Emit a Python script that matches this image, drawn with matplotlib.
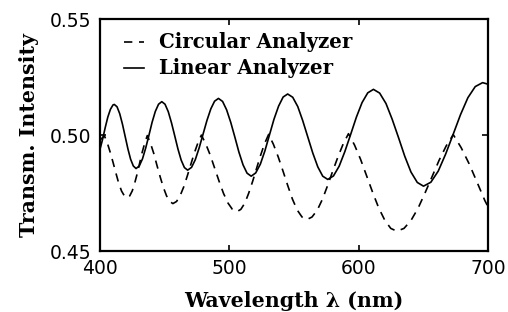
import numpy as np
import matplotlib
matplotlib.use("Agg")
import matplotlib.pyplot as plt

# linear analyzer (solid)
wl_linear = [400.0, 402.0, 404.0, 406.0, 408.0, 410.0,
             411.0, 413.1, 415.2, 417.3, 419.4, 421.5, 423.6, 425.7,
             427.8, 430.3, 432.8, 435.3, 437.8, 440.2, 442.7, 445.2,
             447.7, 450.2, 452.7, 455.2, 457.7, 460.2, 462.7, 465.2,
             467.7, 470.7, 473.6, 476.6, 479.6, 482.6, 485.6, 488.5,
             491.5, 494.7, 497.8, 501.0, 504.2, 507.3, 510.5, 513.6,
             516.8, 520.3, 523.9, 527.4, 530.9, 534.4, 538.0, 541.5,
             545.0, 548.9, 552.8, 556.6, 560.5, 564.4, 568.3, 572.1,
             576.0, 580.4, 584.8, 589.2, 593.7, 598.1, 602.5, 606.9,
             611.3, 616.1, 621.0, 625.8, 630.7, 635.5, 640.3, 645.2,
             650.0, 655.7, 661.4, 667.1, 672.9, 678.6, 684.3, 690.0,
             695.7, 700.0]
int_linear = [0.4940, 0.4983, 0.5033, 0.5078, 0.5111, 0.5130,
              0.5132, 0.5122, 0.5092, 0.5047, 0.4994, 0.4941, 0.4896, 0.4867,
              0.4856, 0.4867, 0.4898, 0.4945, 0.5000, 0.5055, 0.5102, 0.5133,
              0.5144, 0.5133, 0.5101, 0.5053, 0.4997, 0.4940, 0.4892, 0.4860,
              0.4849, 0.4861, 0.4894, 0.4945, 0.5004, 0.5063, 0.5113, 0.5146,
              0.5158, 0.5145, 0.5109, 0.5055, 0.4991, 0.4927, 0.4872, 0.4836,
              0.4823, 0.4837, 0.4875, 0.4932, 0.5000, 0.5068, 0.5125, 0.5164,
              0.5177, 0.5163, 0.5123, 0.5063, 0.4993, 0.4923, 0.4863, 0.4823,
              0.4809, 0.4824, 0.4866, 0.4929, 0.5003, 0.5077, 0.5140, 0.5182,
              0.5197, 0.5181, 0.5136, 0.5068, 0.4989, 0.4909, 0.4841, 0.4796,
              0.4780, 0.4797, 0.4845, 0.4918, 0.5003, 0.5088, 0.5161, 0.5209,
              0.5226, 0.5219]

# circular analyzer (dashed)
wl_circular = [400.0, 402.0,
               403.5, 405.7, 407.9, 410.1, 412.3, 414.4, 416.6, 418.8,
               421.0, 422.9, 424.9, 426.8, 428.8, 430.7, 432.6, 434.6,
               436.5, 439.0, 441.5, 443.9, 446.4, 448.9, 451.4, 453.8,
               456.3, 459.1, 461.8, 464.6, 467.3, 470.1, 472.8, 475.6,
               478.3, 481.7, 485.2, 488.6, 492.0, 495.4, 498.9, 502.3,
               505.7, 508.8, 511.9, 514.9, 518.0, 521.1, 524.2, 527.2,
               530.3, 534.0, 537.7, 541.4, 545.1, 548.7, 552.4, 556.1,
               559.8, 563.8, 567.9, 571.9, 575.9, 579.9, 584.0, 588.0,
               592.0, 596.7, 601.4, 606.0, 610.7, 615.4, 620.1, 624.7,
               629.4, 634.9, 640.3, 645.8, 651.2, 656.7, 662.1, 667.6,
               673.0, 679.1, 685.3, 691.4, 697.5, 700.0]
int_circular = [0.4978, 0.4990,
                0.4995, 0.4964, 0.4925, 0.4881, 0.4835, 0.4793, 0.4759, 0.4738,
                0.4730, 0.4738, 0.4760, 0.4794, 0.4836, 0.4882, 0.4927, 0.4967,
                0.4998, 0.4964, 0.4921, 0.4871, 0.4821, 0.4775, 0.4738, 0.4714,
                0.4705, 0.4714, 0.4738, 0.4776, 0.4822, 0.4873, 0.4922, 0.4966,
                0.5000, 0.4962, 0.4913, 0.4857, 0.4801, 0.4749, 0.4707, 0.4680,
                0.4670, 0.4680, 0.4707, 0.4750, 0.4802, 0.4859, 0.4915, 0.4964,
                0.5003, 0.4960, 0.4906, 0.4845, 0.4782, 0.4724, 0.4677, 0.4647,
                0.4636, 0.4647, 0.4677, 0.4724, 0.4783, 0.4846, 0.4908, 0.4963,
                0.5006, 0.4957, 0.4895, 0.4825, 0.4753, 0.4686, 0.4633, 0.4598,
                0.4586, 0.4598, 0.4632, 0.4685, 0.4751, 0.4822, 0.4892, 0.4954,
                0.5002, 0.4946, 0.4876, 0.4797, 0.4717, 0.4690]

xticks = [400, 500, 600, 700]
yticks = [0.45, 0.50, 0.55]

axis_font = dict(family="DejaVu Serif", weight="bold", size=14.8)
legend_font = dict(family="DejaVu Serif", weight="bold", size=14.2)

fig = plt.figure(figsize=(5.08, 3.12), dpi=100)
ax = fig.add_axes([0.197, 0.195, 0.764, 0.744])

ax.plot(wl_circular, int_circular, color="black", lw=1.2, ls=(0, (5, 4)),
        label="Circular Analyzer")
ax.plot(wl_linear, int_linear, color="black", lw=1.2, label="Linear Analyzer")

ax.set_xlim(400, 700)
ax.set_ylim(0.45, 0.55)
ax.set_xticks(xticks)
ax.set_yticks(yticks)
ax.set_yticklabels(["%.2f" % v for v in yticks])
ax.tick_params(direction="in", top=True, right=True, length=4, width=1.2,
               labelsize=13.5, pad=6)
for s in ax.spines.values():
    s.set_linewidth(1.6)

ax.set_xlabel("Wavelength λ (nm)", fontdict=axis_font, labelpad=9)
ax.set_ylabel("Transm. Intensity", fontdict=axis_font, labelpad=8)

leg = ax.legend(loc="upper left", frameon=False, prop=legend_font,
                handlelength=1.0, handletextpad=0.75, labelspacing=0.3,
                borderaxespad=0, borderpad=0, bbox_to_anchor=(0.062, 0.942))

fig.savefig("out.png", dpi=100)
